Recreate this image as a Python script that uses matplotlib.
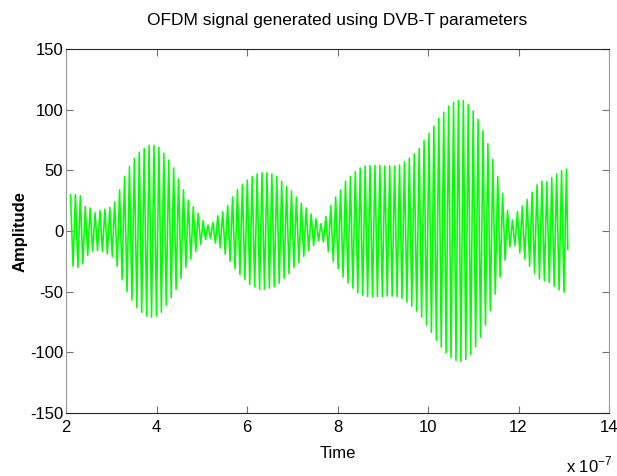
import numpy as np
import matplotlib
matplotlib.use("Agg")
import matplotlib.pyplot as plt
from matplotlib.ticker import FuncFormatter

# ---- data ----
t_first = 2.10e-7          # time of first positive peak (s)
t_last = 13.06e-7          # time of last positive peak (s)
t_end = 13.09e-7           # time of last sample (s)
end_value = -15.0          # last sample value
# positive peak amplitude of each carrier cycle
pos_peaks = [30, 30, 29, 20, 19, 15, 17, 18, 19.5, 24,
             34, 45, 53, 60, 65, 68, 70.6, 70.6, 69, 64,
             58.5, 52, 43, 34, 25.5, 20, 14.5, 8.5, 5, 7,
             12.6, 16, 21, 28, 34, 38.5, 42, 45, 47, 48,
             48, 47, 45, 41, 37, 33, 28, 23, 19, 14,
             10, 6, 12, 21, 28, 34, 41, 45, 49, 52,
             53.5, 54, 54, 54, 53.6, 53.6, 53.6, 54.4, 57, 60,
             63.5, 68, 74.5, 80.5, 86.5, 93, 98, 103, 105.8, 107.4,
             107.4, 104, 99, 92, 82.7, 72, 59, 45, 31, 17,
             9, 16, 20.6, 26, 32, 38, 41, 40.6, 44, 47,
             49.7, 51]
# negative peak amplitude between successive positive peaks
neg_peaks = [29, 30, 27, 20, 17, 16, 17, 19, 21, 29,
             40, 50, 57, 63, 67, 70, 71, 70, 67, 61,
             55, 48, 39, 30, 23, 17, 11, 7, 6, 10,
             14, 19, 25, 31, 36, 40, 44, 46, 48, 48,
             47, 46, 43, 39, 35, 30, 26, 21, 16, 12,
             8, 9, 17, 25, 31, 38, 43, 47, 51, 53,
             54, 54, 54, 54, 53.6, 53.6, 54, 55.5, 58.5, 62,
             66, 71, 77.5, 83.5, 90, 95.5, 100.5, 104.5, 106.6, 107.4,
             106, 101.5, 95.5, 87.5, 77.5, 65.5, 52, 38, 24, 13,
             12, 18, 23, 29, 35, 39.5, 41, 42.5, 45.5, 48.5,
             50.5]

xticks_vals = [2, 4, 6, 8, 10, 12, 14]
yticks_vals = [-150, -100, -50, 0, 50, 100, 150]

# ---- build the sampled signal (alternating peaks) ----
n = len(pos_peaks)
t_pos = np.linspace(t_first, t_last, n)
T = t_pos[1] - t_pos[0]
times, vals = [], []
for i in range(n):
    times.append(t_pos[i]); vals.append(pos_peaks[i])
    if i < len(neg_peaks):
        times.append(t_pos[i] + T / 2); vals.append(-neg_peaks[i])
times.append(t_end); vals.append(end_value)

plt.rcParams['font.family'] = ['Liberation Sans', 'DejaVu Sans']
plt.rcParams['mathtext.fontset'] = 'custom'
plt.rcParams['mathtext.rm'] = 'Liberation Sans'
plt.rcParams['axes.unicode_minus'] = False

fig = plt.figure(figsize=(6.17, 4.76), dpi=100)
ax = fig.add_axes([66/617, 1 - 413/476, (609-66)/617, (413-49)/476])
ax.plot(times, vals, color=(0, 1, 0), linewidth=1.15)

ax.set_xlim(2e-7, 14e-7)
ax.set_ylim(-150, 150)
ax.set_xticks([v * 1e-7 for v in xticks_vals])
ax.xaxis.set_major_formatter(FuncFormatter(lambda x, p: f"{x/1e-7:.0f}"))
ax.set_yticks(yticks_vals)
ax.tick_params(direction='in', length=5, labelsize=12, top=True, right=True,
               color='0.45', pad=2)
ax.tick_params(axis='x', pad=5)
for s in ['left', 'right']:
    ax.spines[s].set_color('0.6')
for s in ['top', 'bottom']:
    ax.spines[s].set_color('0.15')

ax.set_title("OFDM signal generated using DVB-T parameters", fontsize=12.5, pad=17)
ax.set_xlabel("Time", fontsize=12, labelpad=8)
ax.set_ylabel("Amplitude", fontsize=12, fontweight='bold')
ax.yaxis.set_label_coords((28 - 66) / 543, 0.5)
fig.text(566/617, 1 - 472/476, r"x 10$^{-7}$", fontsize=12, ha='left', va='baseline')

fig.savefig("out.png", dpi=100)
